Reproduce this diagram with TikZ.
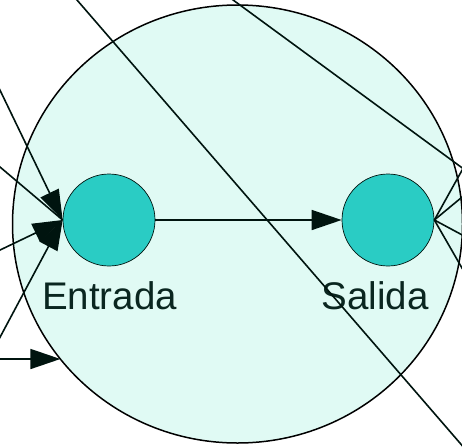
\documentclass[tikz,border=0pt]{standalone}
\usepackage{fontspec}
\setmainfont{Liberation Sans}
\usetikzlibrary{arrows.meta,shapes.geometric}
\definecolor{mintfill}{HTML}{E0FAF4}
\definecolor{tealfill}{HTML}{2ACCC4}
\definecolor{inkline}{HTML}{00140F}
\definecolor{labelink}{HTML}{0A2620}
\begin{document}
\begin{tikzpicture}[x=1pt,y=-1pt,
  wire/.style={draw=inkline,line width=1.6pt},
  arrowed/.style={wire,-{Triangle[length=30pt,width=20pt]}},
  place/.style={circle,draw=inkline,line width=0.7pt,fill=tealfill,minimum size=92pt,inner sep=0pt},
  caption/.style={text=labelink,font=\fontsize{38.5}{46}\selectfont,anchor=base,inner sep=0pt}]
\useasboundingbox (0,0) rectangle (462,447);
\clip (0,0) rectangle (462,447);

% system boundary
\node[ellipse,draw=black,line width=1.5pt,fill=mintfill,
      minimum width=450pt,minimum height=438pt,inner sep=0pt] (system) at (237.5,224) {};

% places and their labels
\node[place] (in) at (109,220) {};
\node[place] (out) at (388,220) {};
\node[caption] (inlabel) at (109.5,309) {Entrada};
\node[caption] (outlabel) at (375,309) {Salida};

% loose ends of the connectors
\coordinate (a1) at (-2,86);
\coordinate (a2) at (-2,165.3);
\coordinate (a3) at (-2,251);
\coordinate (a4) at (-2,341);
\coordinate (a5) at (-2,359);
\coordinate (a5end) at (60.4,359);
\coordinate (t1a) at (74.4,-3);
\coordinate (t1b) at (467.7,452);
\coordinate (t2a) at (229,-3);
\coordinate (r1) at (463,168.5);
\coordinate (r2) at (466,193.8);
\coordinate (r3) at (466,237);
\coordinate (r4) at (466,275);

% incoming connectors
\draw[arrowed] (a1) -- (in.west);
\draw[wire] (a2) -- (in.west);
\draw[arrowed] (a3) -- (in.west);
\draw[arrowed] (a4) -- (in.west);
\draw[arrowed] (a5) -- (a5end);

% internal flow
\draw[arrowed] (in.east) -- (out.west);

% crossing lines
\draw[wire] (t1a) -- (t1b);
\draw[wire] (t2a) -- (r1);

% outgoing lines
\draw[wire] (out.east) -- (r1);
\draw[wire] (out.east) -- (r2);
\draw[wire] (out.east) -- (r3);
\draw[wire] (out.east) -- (r4);
\end{tikzpicture}
\end{document}
